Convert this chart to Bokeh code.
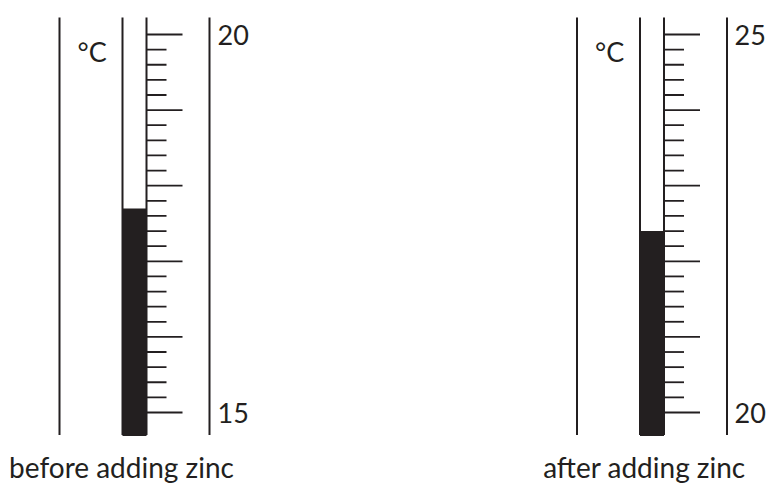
import numpy as np
from bokeh.plotting import figure
from bokeh.layouts import row
from bokeh.models import Range1d
from bokeh.embed import file_html
from bokeh.resources import INLINE
from bokeh.core.properties import value

# ---------------- data ----------------
captions = ["before adding zinc", "after adding zinc"]
scale_min = [15, 20]
scale_max = [20, 25]
readings = [17.7, 22.4]
tick_labels = [["15", "20"], ["20", "25"]]
minor_step = 0.2
major_step = 1.0
unit_label = "°C"

# ---------------- style / geometry ----------------
INK = "#231f20"
FONT = "Lato"
PX_PER_DEG = 75.6          # screen px per degree
Y_SCALE_MIN = 412          # screen y of the scale minimum
SCREEN_TOP, SCREEN_BOTTOM = 0, 489
FIG_H = SCREEN_BOTTOM - SCREEN_TOP
fig_x = [(0, 386), (386, 771)]     # screen x spans of the two panels
dx_list = [0, 517.5]               # horizontal shift of each thermometer
label_x = [217, 734]
caption_x = [121, 644]


def deg(tmin, screen_y):
    """Convert a screen-y geometry constant into degrees for this panel."""
    return tmin + (Y_SCALE_MIN - screen_y) / PX_PER_DEG


panels = []
for i in range(2):
    tmin, tmax = scale_min[i], scale_max[i]
    dx = dx_list[i]
    x_lo, x_hi = fig_x[i]
    p = figure(width=x_hi - x_lo, height=FIG_H,
               x_range=Range1d(x_lo, x_hi),
               y_range=Range1d(deg(tmin, SCREEN_BOTTOM), deg(tmin, SCREEN_TOP)),
               output_backend="svg", toolbar_location=None,
               x_axis_location=None, y_axis_location=None,
               min_border=0, outline_line_color=None)
    p.xgrid.visible = False
    p.ygrid.visible = False
    p.background_fill_color = "white"
    p.border_fill_color = "white"

    # mercury column
    p.quad(left=[122 + dx], right=[146 + dx],
           bottom=[deg(tmin, 435.5)], top=[readings[i]],
           fill_color=INK, line_color=None)

    # vertical lines: outer left, tube left, scale line, outer right
    xs = [59 + dx, 122 + dx, 146 + dx, 209 + dx]
    top = deg(tmin, 17)
    bot = deg(tmin, 434.5)
    p.segment(x0=xs, y0=[bot] * 4, x1=xs, y1=[top] * 4,
              line_color=INK, line_width=2)

    # ticks
    vals = np.round(np.arange(tmin, tmax + 1e-9, minor_step), 3)
    is_major = np.isclose(np.mod(vals + 1e-9, major_step), 0, atol=1e-6)
    ends = np.where(is_major, 182 + dx, 166 + dx)
    p.segment(x0=[146 + dx] * len(vals), y0=vals, x1=ends, y1=vals,
              line_color=INK, line_width=1.8)

    # tick labels (min and max only)
    p.text(x=[label_x[i]] * 2,
           y=[tmin - 0.5 / PX_PER_DEG, tmax - 0.5 / PX_PER_DEG],
           text=tick_labels[i], text_font=value(FONT), text_font_size="27px",
           text_color=INK, text_align="left", text_baseline="middle")

    # unit label
    p.text(x=[77 + dx], y=[deg(tmin, 50.5)], text=[unit_label],
           text_font=value(FONT), text_font_size="27px", text_color=INK,
           text_align="left", text_baseline="middle")

    # caption
    p.text(x=[caption_x[i]], y=[deg(tmin, 466)], text=[captions[i]],
           text_font=value(FONT), text_font_size="28px", text_color=INK,
           text_align="center", text_baseline="middle")

    panels.append(p)

layout = row(*panels, spacing=0)
open("out.html", "w").write(file_html(layout, INLINE))
